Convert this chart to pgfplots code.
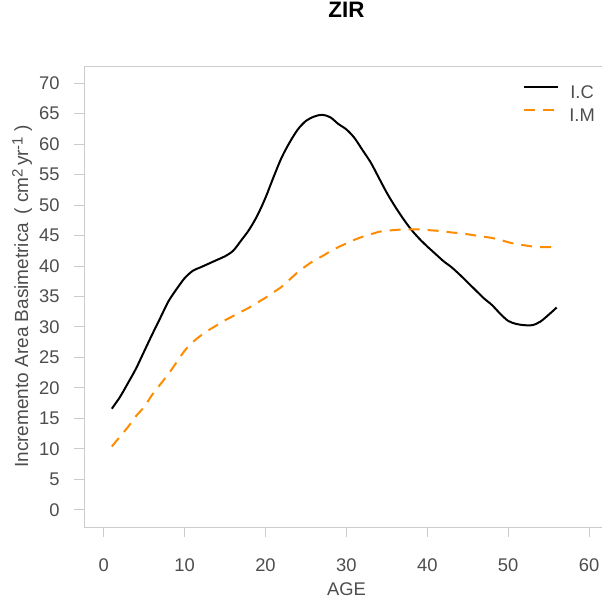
\documentclass[border=0pt]{standalone}
\usepackage{fontspec}
\setmainfont{Liberation Sans}
\usepackage{pgfplots}
\pgfplotsset{compat=1.18}
\definecolor{boxgray}{HTML}{CCCCCC}
\definecolor{labgray}{HTML}{4D4D4D}
\definecolor{rorange}{HTML}{FF8C00}

\pgfplotstableread{
x y
1 16.6
2 18.5
3 20.8
4 23.2
5 26.0
6 28.8
7 31.5
8 34.2
9 36.2
10 38.0
11 39.2
12 39.8
13 40.4
14 41.0
15 41.6
16 42.5
17 44.2
18 46.0
19 48.3
20 51.2
21 54.6
22 57.8
23 60.3
24 62.4
25 63.8
26 64.5
27 64.8
28 64.4
29 63.3
30 62.4
31 61.0
32 59.0
33 57.0
34 54.5
35 52.0
36 49.8
37 47.8
38 46.0
39 44.5
40 43.2
41 42.0
42 40.8
43 39.8
44 38.6
45 37.3
46 36.0
47 34.7
48 33.6
49 32.2
50 31.0
51 30.5
52 30.3
53 30.3
54 30.9
55 32.0
56 33.2
}\ictable

\pgfplotstableread{
x y
1 10.4
2 12.0
3 13.6
4 15.4
5 16.9
6 18.9
7 20.6
8 22.3
9 24.2
10 26.1
11 27.5
12 28.6
13 29.5
14 30.3
15 31.1
16 31.8
17 32.5
18 33.2
19 34.0
20 34.8
21 35.7
22 36.6
23 37.8
24 39.0
25 40.0
26 40.9
27 41.6
28 42.4
29 43.1
30 43.7
31 44.3
32 44.8
33 45.2
34 45.6
35 45.8
36 45.9
37 46.0
38 46.0
39 46.0
40 45.9
41 45.8
42 45.7
43 45.5
44 45.4
45 45.2
46 45.0
47 44.8
48 44.6
49 44.3
50 43.9
51 43.6
52 43.4
53 43.2
54 43.1
55 43.1
56 43.2
}\imtable

\newcommand{\sups}[1]{\raisebox{0.55ex}{\fontsize{9}{9}\selectfont #1}}

\begin{document}
\begin{tikzpicture}
\begin{axis}[
  scale only axis,
  width=314.5pt, height=276.6pt,
  xmin=-2.4, xmax=62.4,
  ymin=-2.8, ymax=72.8,
  xtick={0,10,...,60},
  ytick={0,5,...,70},
  axis line style={boxgray, line width=0.6pt},
  tick style={boxgray, line width=0.6pt},
  tick align=outside,
  major tick length=6pt,
  xtick pos=bottom, ytick pos=left,
  /pgf/number format/assume math mode=true,
  tick label style={font=\fontsize{11}{13}\selectfont, text=labgray},
  xticklabel style={anchor=north, inner sep=0pt, yshift=-12.6pt},
  yticklabel style={anchor=east, inner sep=0pt, xshift=-8.6pt},
  xlabel={AGE},
  ylabel={Incremento Area Basimetrica \,( cm\sups{2}\,yr\sups{-1} )},
  label style={text=labgray},
  xlabel style={font=\fontsize{11}{13}\selectfont, at={(axis description cs:0.5,-0.1475)}, anchor=base},
  ylabel style={font=\fontsize{11.4}{14}\selectfont, at={(axis description cs:-0.107,0.5)}, anchor=base},
  title={ZIR},
  title style={font=\bfseries\fontsize{13.4}{15}\selectfont, at={(axis description cs:0.5,1.0846)}, anchor=base},
  legend style={draw=none, fill=none, inner sep=0pt,
    at={(axis description cs:0.837,0.9588)}, anchor=north west,
    font=\fontsize{11}{13}\selectfont, text=labgray,
    nodes={inner sep=0pt}, row sep=4.8pt},
  legend image code/.code={\draw[#1] (0pt,0.36em) -- (20.4pt,0.36em);},
  /tikz/every odd column/.append style={column sep=6.0pt},
]
\addplot[black, line width=1.2pt, smooth] table[x=x, y=y] {\ictable};
\addlegendentry{I.C}
\addplot[rorange, line width=1.2pt, smooth, dash pattern=on 6.6pt off 4.8pt] table[x=x, y=y] {\imtable};
\addlegendentry{I.M}
\end{axis}
\pgfresetboundingbox
\path[use as bounding box] (-50.58pt,-43.8pt) rectangle (310.62pt,316.2pt);
\end{tikzpicture}
\end{document}
